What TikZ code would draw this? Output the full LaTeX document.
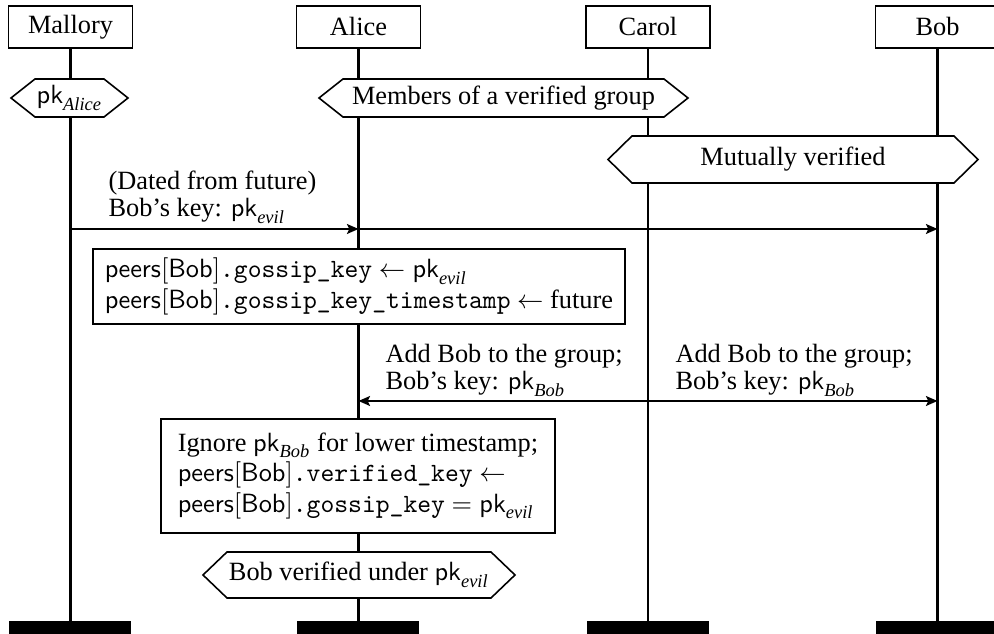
\documentclass[tikz,border=0pt]{standalone}
\usepackage{fontspec}
\setmainfont{Liberation Serif}
\usetikzlibrary{arrows.meta}

\newcommand\pk{\mathsf{pk}}
\newcommand\peersBob{\mathsf{peers}[\mathsf{Bob}]}
% hexagonal condition: name, left x, right x, top y, bottom y, text
\newcommand\condition[6]{%
  \draw[cond] (#2,{(#4+#5)/2}) -- (#2+24,#4) -- (#3-24,#4) -- (#3,{(#4+#5)/2})
    -- (#3-24,#5) -- (#2+24,#5) -- cycle;
  \node[inner sep=0pt] (#1) at ({(#2+#3)/2},{(#4+#5)/2}) {#6};}

\begin{document}
\begin{tikzpicture}[x=0.3795pt,y=-0.3795pt,
  lifeline/.style={line width=1.1pt},
  inst/.style={draw, line width=0.6pt, fill=white, minimum width=47.06pt,
    minimum height=15.94pt, inner sep=0pt},
  msg/.style={line width=0.6pt, -{Stealth[length=4.4pt,width=3.8pt,inset=0.9pt]}},
  cond/.style={draw, line width=0.6pt, fill=white},
  action/.style={draw, line width=0.6pt, fill=white, align=left, inner sep=0pt,
    font=\fontsize{10}{11.6}\selectfont},
  lbl/.style={align=left, inner sep=0pt, font=\fontsize{10}{10.3}\selectfont,
    anchor=base west}
]
\useasboundingbox (0,0) rectangle (994,634);
\clip (0,0) rectangle (994,634);

% instance heads
\node[inst] (mallory) at (70.5,27) {Mallory};
\node[inst] (alice)   at (358.5,27) {Alice};
\node[inst] (carol)   at (648,27) {Carol};
\node[inst] (bob)     at (937.5,27) {Bob};

% instance ends
\coordinate (mEnd) at (70.5,621);
\coordinate (aEnd) at (358.5,621);
\coordinate (cEnd) at (648,621);
\coordinate (bEnd) at (937.5,621);

% lifelines
\draw[lifeline] (mallory.south) -- (mEnd);
\draw[lifeline] (alice.south) -- (aEnd);
\draw[lifeline] (carol.south) -- (cEnd);
\draw[lifeline] (bob.south) -- (bEnd);

% end bars
\foreach \e in {mEnd,aEnd,cEnd,bEnd}
  \fill (\e) ++(-61,0) rectangle ++(122,20);

% conditions
\condition{pkAlice}{11}{128}{79}{117}{$\pk_{\mathit{Alice}}$}
\condition{members}{319}{688}{79}{117}{Members of a verified group}
\condition{mutual}{608}{978}{136}{183}{Mutually verified}

% message 1: Mallory sends the forged key
\coordinate (m1) at (70.5,229);
\coordinate (a1) at (358.5,229);
\coordinate (b1) at (937.5,229);
\draw[msg] (m1) -- (a1);
\draw[msg] (a1) -- (b1);
\node[lbl] (lab1) at (108,217) {(Dated from future)\\Bob’s key: $\pk_{\mathit{evil}}$};

% Alice stores the gossip key
\node[action, minimum width=201.9pt, minimum height=28.46pt] (act1) at (359,286.5)
  {$\peersBob$\texttt{.gossip\_key} $\leftarrow \pk_{\mathit{evil}}$\\
   $\peersBob$\texttt{.gossip\_key\_timestamp} $\leftarrow$ future};

% message 2: Carol adds Bob to the group
\coordinate (a2) at (358.5,401);
\coordinate (c2) at (648,401);
\coordinate (b2) at (937.5,401);
\draw[msg] (c2) -- (a2);
\draw[msg] (c2) -- (b2);
\node[lbl] (lab2) at (385,390) {Add Bob to the group;\\Bob’s key: $\pk_{\mathit{Bob}}$};
\node[lbl] (lab3) at (675,390) {Add Bob to the group;\\Bob’s key: $\pk_{\mathit{Bob}}$};

% Alice keeps the forged key
\node[action, minimum width=149.5pt, minimum height=43.26pt] (act2) at (358,476)
  {Ignore $\pk_{\mathit{Bob}}$ for lower timestamp;\\
   $\peersBob$\texttt{.verified\_key} $\leftarrow$\\
   $\peersBob$\texttt{.gossip\_key} $= \pk_{\mathit{evil}}$};

\condition{verified}{203}{515}{552}{598}{Bob verified under $\pk_{\mathit{evil}}$}
\end{tikzpicture}
\end{document}
